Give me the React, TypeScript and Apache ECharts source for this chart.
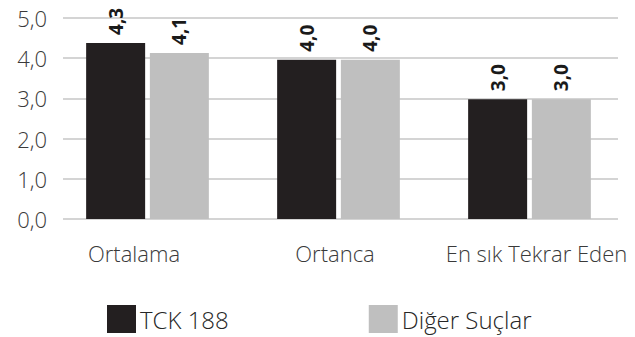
import React, { useEffect, useRef } from "react";
import * as echarts from "echarts";

const categories = ["Ortalama", "Ortanca", "En sık Tekrar Eden"];
const tck188 = [4.38, 3.96, 2.98];
const tck188Labels = ["4,3", "4,0", "3,0"];
const digerSuclar = [4.13, 3.96, 2.98];
const digerLabels = ["4,1", "4,0", "3,0"];
const seriesNames = ["TCK 188", "Diğer Suçlar"];

const FONT = "'Open Sans', sans-serif";
const labelPads = [
  [0, 27, 0, 0],
  [0, 7, 0, 0],
  [0, 0, 0, 14],
];

export default function App() {
  const ref = useRef<HTMLDivElement>(null);
  useEffect(() => {
    document.body.style.margin = "0";
    if (!ref.current) return;
    const chart = echarts.init(ref.current, null, { renderer: "svg" });
    const labelFor = (labels: string[]) => ({
      show: true,
      position: "top",
      rotate: 90,
      align: "left",
      verticalAlign: "middle",
      distance: 8,
      fontFamily: FONT,
      fontWeight: "bold",
      fontSize: 19,
      color: "#1a1a1a",
      formatter: (p: any) => labels[p.dataIndex],
    });
    chart.setOption({
      animation: false,
      legend: {
        left: 102,
        top: 300,
        itemWidth: 29,
        itemHeight: 28,
        itemGap: 140,
        icon: "rect",
        textStyle: { fontFamily: FONT, fontSize: 24, fontWeight: 300, color: "#262626", padding: [0, 0, 0, -1] },
        data: seriesNames,
      },
      grid: [
        { left: 63, right: 17, top: 18, bottom: 118 },
        { left: 52, right: 10, top: 18, bottom: 118 },
      ],
      xAxis: [
        { type: "category", gridIndex: 0, data: categories, show: false },
        {
          type: "category",
          gridIndex: 1,
          data: categories.map((c, i) => ({ value: c, textStyle: { padding: labelPads[i] } })),
          axisLine: { show: false },
          axisTick: { show: false },
          axisLabel: {
            interval: 0,
            margin: 23,
            fontFamily: FONT,
            fontSize: 22,
            fontWeight: 300,
            color: "#3a3a3a",
          },
        },
      ],
      yAxis: [
        {
          type: "value",
          gridIndex: 0,
          min: 0,
          max: 5,
          interval: 1,
          axisLine: { show: false },
          axisTick: { show: false },
          splitLine: { lineStyle: { color: "#d4d4d4", width: 2 } },
          axisLabel: {
            margin: 16,
            fontFamily: FONT,
            fontSize: 22,
            fontWeight: 300,
            color: "#3a3a3a",
            formatter: (v: number) => v.toFixed(1).replace(".", ","),
          },
        },
        { type: "value", gridIndex: 1, min: 0, max: 5, interval: 1, show: false, splitLine: { show: false } },
      ],
      series: [
        {
          name: seriesNames[0],
          type: "bar",
          xAxisIndex: 1,
          yAxisIndex: 1,
          data: tck188,
          barWidth: 59,
          barGap: "8%",
          itemStyle: { color: "#231f20" },
          label: labelFor(tck188Labels),
        },
        {
          name: seriesNames[1],
          type: "bar",
          xAxisIndex: 1,
          yAxisIndex: 1,
          data: digerSuclar,
          barWidth: 59,
          barGap: "8%",
          itemStyle: { color: "#bfbfbf" },
          label: labelFor(digerLabels),
        },
      ],
    });
    return () => chart.dispose();
  }, []);
  return <div ref={ref} style={{ width: 635, height: 337 }} />;
}
